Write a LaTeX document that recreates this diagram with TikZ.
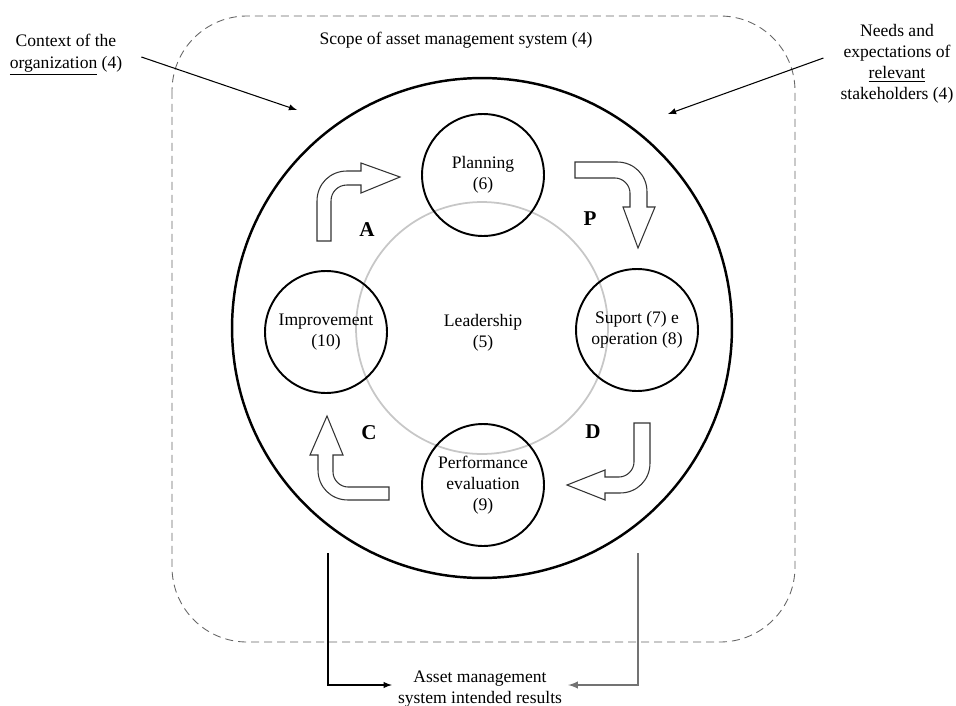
\documentclass[tikz,border=0pt]{standalone}
\usepackage{fontspec}
\setmainfont{Liberation Serif}
\usetikzlibrary{arrows,calc}

\tikzset{
    stage/.style={draw, circle, line width=1.1pt, minimum size=2.44cm
        , inner sep=0pt, align=center},
    pdca/.style={font=\fontsize{12}{14}\selectfont\bfseries},
    bentarrow/.style={draw=black!80, line width=0.6pt, fill=white},
    feed/.style={-latex, line width=0.6pt},
}

\begin{document}
\begin{tikzpicture}[x=0.02cm, y=-0.02cm
        , every node/.style={font=\fontsize{10}{12}\selectfont}
    ]
    \useasboundingbox (0,0) rectangle (956,706);

    %% scope of the system, dashed box
    \draw[black!60, line width=0.5pt, dash pattern=on 0.16cm off 0.1cm
        , rounded corners=1.5cm] (172,16) rectangle (795,642);
    \node[] (scope) at (456,40) {Scope of asset management system (4)};

    % big ring with leadership in the middle
    \node[circle, draw, line width=1.4pt, minimum size=10cm] (ring) at (482,328) {};
    \draw[black!22, line width=1pt] (ring.center) circle (2.52cm);
    \node[align=center] (lead) at (483,333) {Leadership\\(5)};

    % the four stages
    \node[stage] (plan) at (483,175) {Planning\\(6)};
    \node[stage] (supop) at (637,330) {Suport (7) e\\operation (8)};
    \node[stage] (perf) at (483,485) {Performance\\evaluation\\(9)};
    \node[stage] (impr) at (326,332) {Improvement\\(10)};

    % bent block arrows between the stages
    \draw[bentarrow] (317,241) -- (317,201) .. controls (317,184) and (330,171) .. (347,171)
        -- (361,171) -- (361,163) -- (400,177) -- (361,193) -- (361,185) -- (347,185)
        .. controls (338,185) and (331,192) .. (331,201) -- (331,241) -- cycle;
    \draw[bentarrow] (575,162) -- (617,162) .. controls (634,162) and (647,175) .. (647,192)
        -- (647,207) -- (655,207) -- (638,248) -- (623,207) -- (630,207) -- (630,193)
        .. controls (630,185) and (623,178) .. (615,178) -- (575,178) -- cycle;
    \draw[bentarrow] (634,423) -- (650,423) -- (650,463) .. controls (650,480) and (637,493) .. (620,493)
        -- (605,493) -- (605,500) -- (567,485) -- (605,470) -- (605,477) -- (619,477)
        .. controls (627,477) and (634,470) .. (634,462) -- cycle;
    \draw[bentarrow] (389,487) -- (389,500) -- (348,500) .. controls (331,500) and (318,487) .. (318,470)
        -- (318,455) -- (310,455) -- (327,416) -- (343,455) -- (333,455) -- (333,472)
        .. controls (333,480) and (340,487) .. (348,487) -- cycle;

    \node[pdca] (lA) at (367,230) {A};
    \node[pdca] (lP) at (590,219) {P};
    \node[pdca] (lD) at (593,432) {D};
    \node[pdca] (lC) at (369,433) {C};

    % inputs from outside
    \node[align=center] (context) at (66,55) {Context of the\\\underline{organization} (4)};
    \node[align=center] (needs) at (897,64) {Needs and\\expectations of\\\underline{relevant}\\stakeholders (4)};
    \coordinate (ctxend) at (297,110);
    \coordinate (needsend) at (668,114);
    \draw[feed] ([shift={(13,2)}]context.east) -- (ctxend);
    \draw[feed] ([shift={(-11,-6)}]needs.west) -- (needsend);

    % intended results
    \node[align=center] (result) at (480,689) {Asset management\\system intended results};
    \coordinate (outl) at (328,553);
    \coordinate (outr) at (638,553);
    \draw[feed] (outl) |- ([shift={(0,-4)}]result.west);
    \draw[feed, black!55, line width=0.9pt] (outr) |- ([shift={(0,-4)}]result.east);
\end{tikzpicture}
\end{document}
